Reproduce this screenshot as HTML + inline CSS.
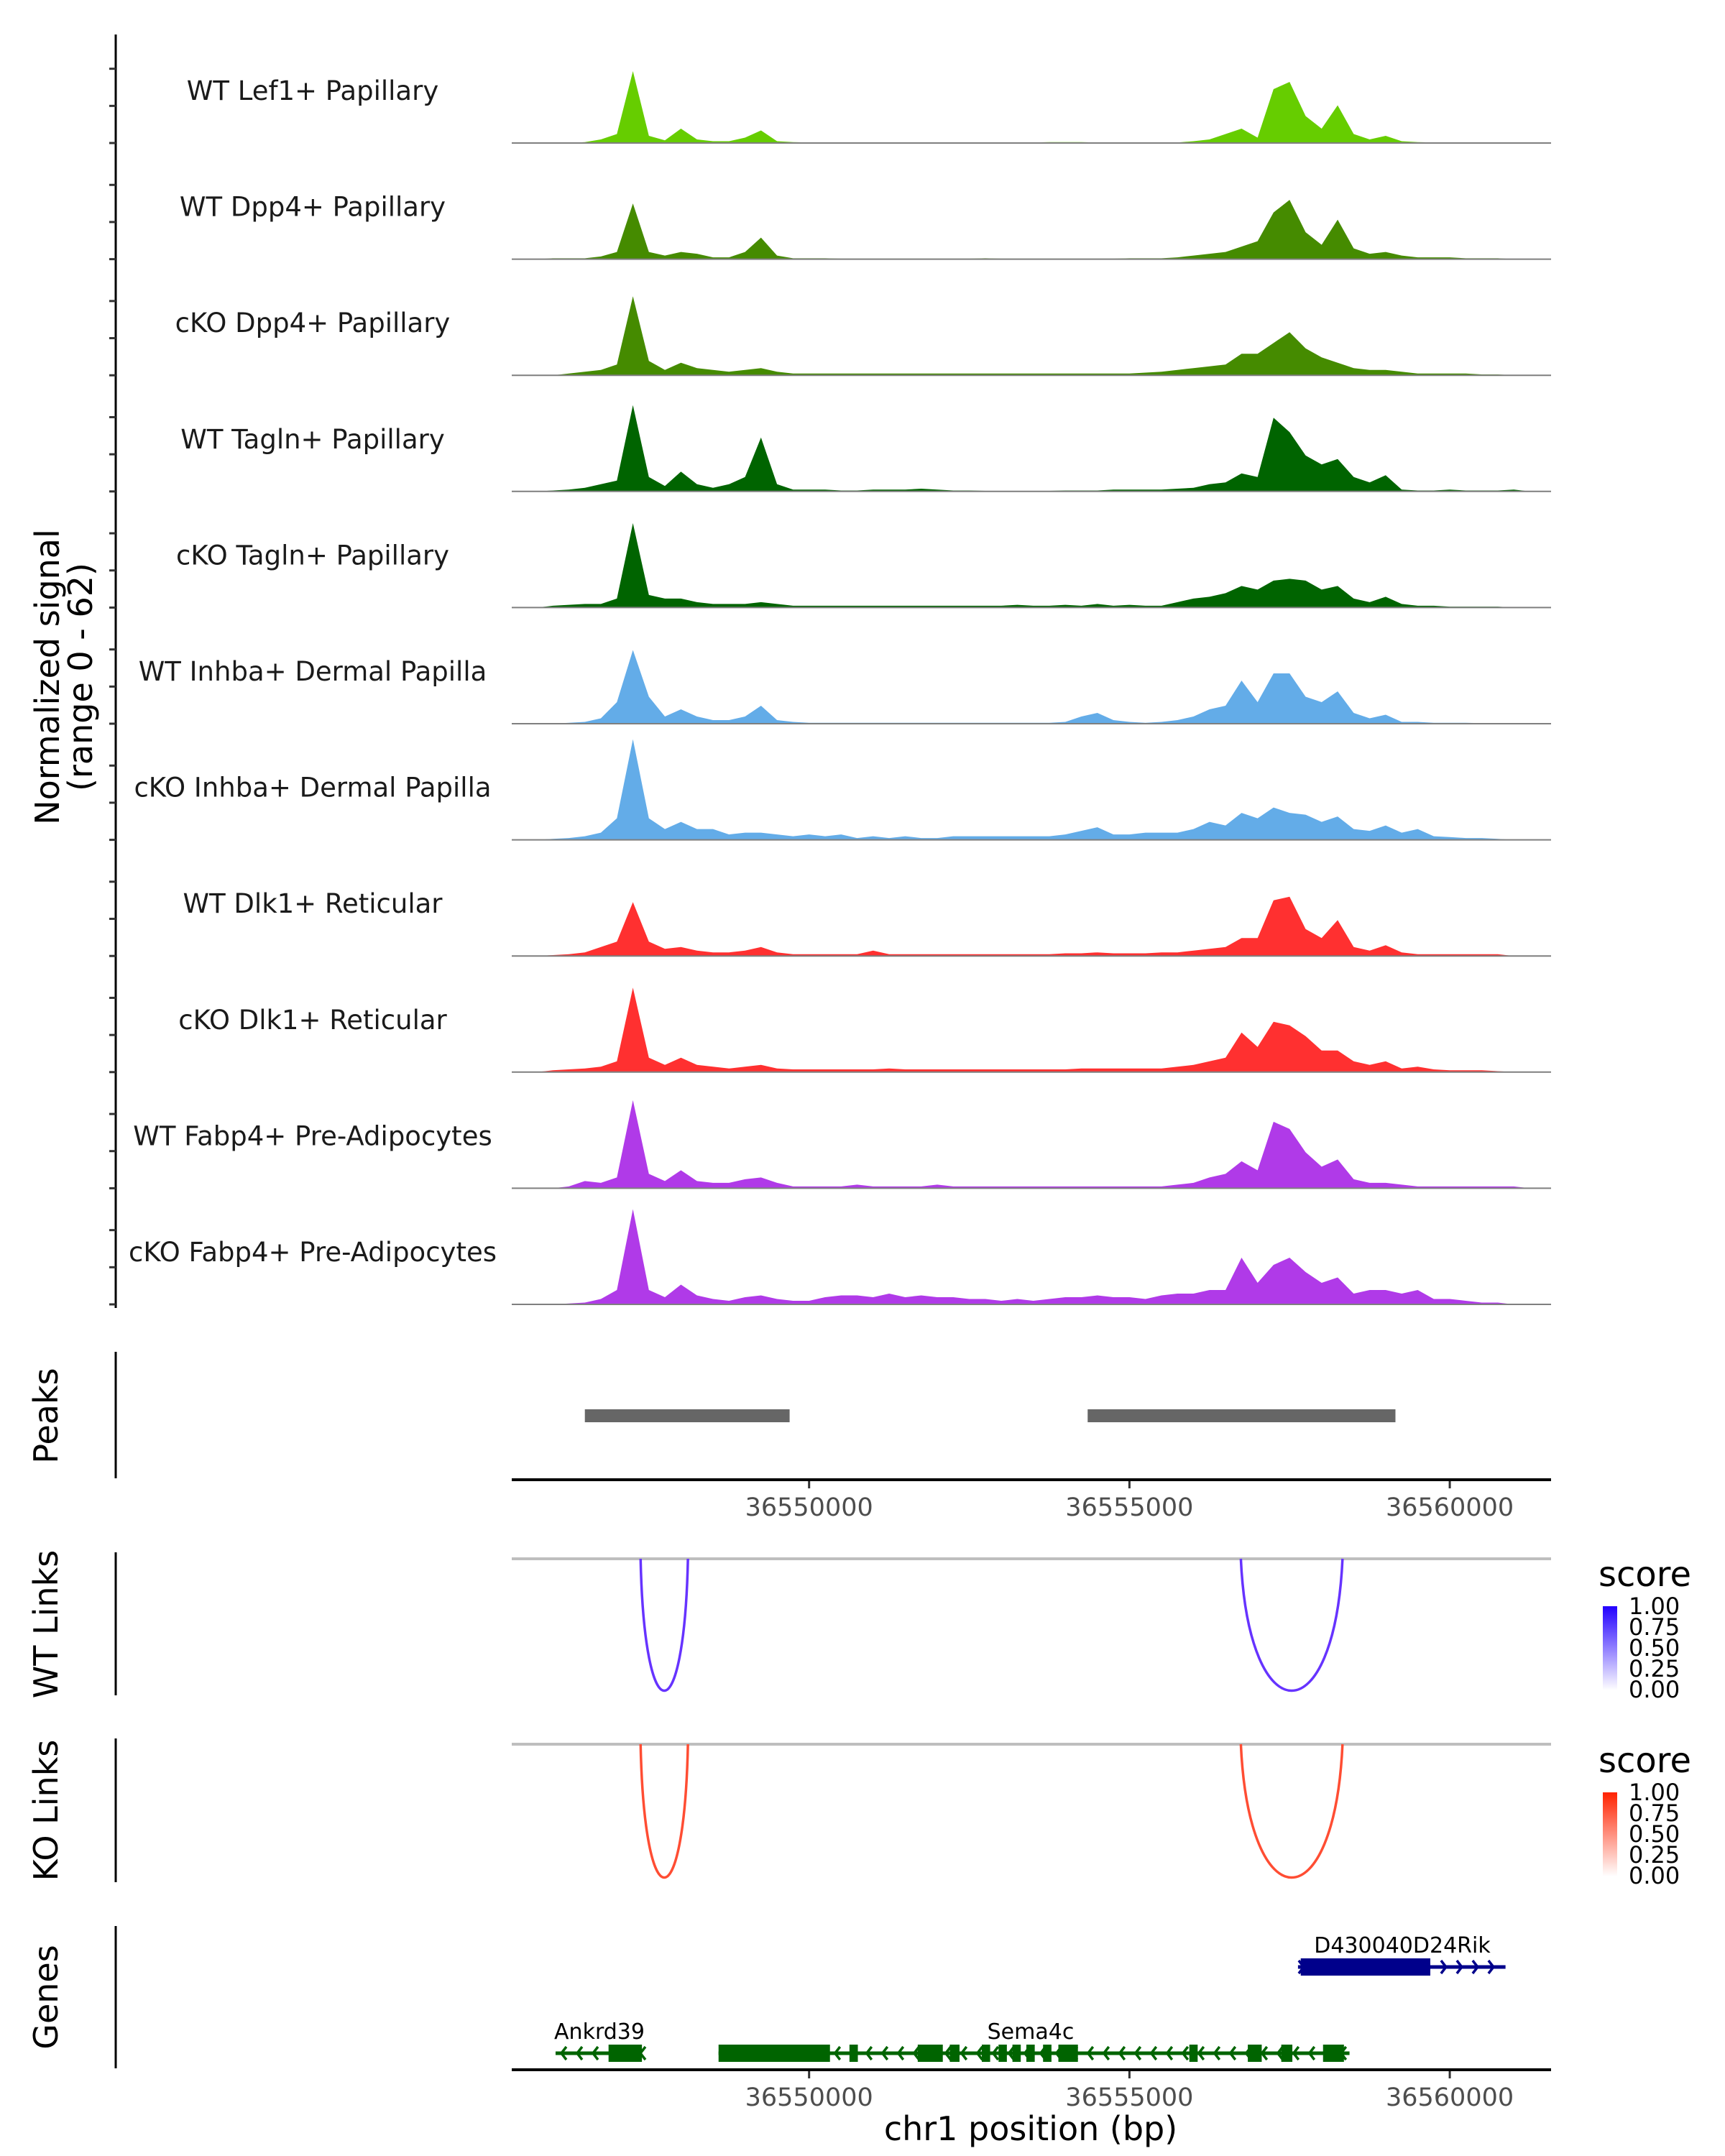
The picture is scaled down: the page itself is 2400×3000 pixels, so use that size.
<!DOCTYPE html>
<html><head><meta charset="utf-8">
<style>
html,body{margin:0;padding:0;background:#fff;}
svg{display:block;font-family:"DejaVu Sans","Liberation Sans",sans-serif;}
</style></head>
<body>
<svg id="chart" width="2400" height="3000" viewBox="0 0 2400 3000" xmlns="http://www.w3.org/2000/svg">
<defs>
<linearGradient id="gradWT" x1="0" y1="1" x2="0" y2="0"><stop offset="0" stop-color="#ffffff"/><stop offset="1" stop-color="#2200ff"/></linearGradient>
<linearGradient id="gradKO" x1="0" y1="1" x2="0" y2="0"><stop offset="0" stop-color="#ffffff"/><stop offset="1" stop-color="#ff2200"/></linearGradient>
</defs>
<g id="tracks"></g>
<line x1="161" y1="48" x2="161" y2="1820" stroke="#000" stroke-width="3"/>
<g id="yticks"></g>
<text transform="translate(82,942) rotate(-90)" text-anchor="middle" font-size="46" fill="#000">Normalized signal</text>
<text transform="translate(128,942) rotate(-90)" text-anchor="middle" font-size="46" fill="#000">(range 0 - 62)</text>

<line x1="161" y1="1881" x2="161" y2="2057" stroke="#000" stroke-width="3"/>
<text transform="translate(80,1970) rotate(-90)" text-anchor="middle" font-size="46">Peaks</text>
<g id="peaks"></g>
<line x1="712" y1="2059" x2="2158" y2="2059" stroke="#000" stroke-width="4"/>
<g id="xticks1"></g>

<line x1="161" y1="2160" x2="161" y2="2359" stroke="#000" stroke-width="3"/>
<text transform="translate(80,2260) rotate(-90)" text-anchor="middle" font-size="46">WT Links</text>
<line x1="712" y1="2169" x2="2158" y2="2169" stroke="#bebebe" stroke-width="4"/>
<g id="wtlinks"></g>

<line x1="161" y1="2419" x2="161" y2="2619" stroke="#000" stroke-width="3"/>
<text transform="translate(80,2519) rotate(-90)" text-anchor="middle" font-size="46">KO Links</text>
<line x1="712" y1="2427" x2="2158" y2="2427" stroke="#bebebe" stroke-width="4"/>
<g id="kolinks"></g>

<g>
<text x="2224" y="2207" font-size="48">score</text>
<rect x="2230" y="2235" width="20" height="117" fill="url(#gradWT)"/>
<g font-size="32" fill="#000">
<text x="2266" y="2246">1.00</text><text x="2266" y="2275">0.75</text><text x="2266" y="2304">0.50</text><text x="2266" y="2333">0.25</text><text x="2266" y="2362">0.00</text>
</g></g>
<g>
<text x="2224" y="2466" font-size="48">score</text>
<rect x="2230" y="2494" width="20" height="117" fill="url(#gradKO)"/>
<g font-size="32" fill="#000">
<text x="2266" y="2505">1.00</text><text x="2266" y="2534">0.75</text><text x="2266" y="2563">0.50</text><text x="2266" y="2592">0.25</text><text x="2266" y="2621">0.00</text>
</g></g>

<line x1="161" y1="2680" x2="161" y2="2878" stroke="#000" stroke-width="3"/>
<text transform="translate(80,2779) rotate(-90)" text-anchor="middle" font-size="46">Genes</text>
<g id="genes"></g>
<line x1="712" y1="2880" x2="2158" y2="2880" stroke="#000" stroke-width="4"/>
<g id="xticks2"></g>
<text x="1434" y="2978" text-anchor="middle" font-size="46">chr1 position (bp)</text>
</svg>
<script>
const trackNames = ["WT Lef1+ Papillary","WT Dpp4+ Papillary","cKO Dpp4+ Papillary","WT Tagln+ Papillary","cKO Tagln+ Papillary","WT Inhba+ Dermal Papilla","cKO Inhba+ Dermal Papilla","WT Dlk1+ Reticular","cKO Dlk1+ Reticular","WT Fabp4+ Pre-Adipocytes","cKO Fabp4+ Pre-Adipocytes"];
const trackColors = ["#66cd00","#458b00","#458b00","#006400","#006400","#63ace8","#63ace8","#ff3030","#ff3030","#b03ae8","#b03ae8"];
const binStart = 36545500;
const binSize = 250;
const sigLefWT = [0,0,0,0,0.5,2,5,40,4,1.5, 8,2,1,1,3,7,1,0.5,0.3,0.3, 0.3,0.3,0.3,0.3,0.3,0.3,0.3,0.3,0.3,0.3, 0.3,0.3,0.3,0.5,0.5,0.5,0.3,0.3,0.3,0.3, 0.3,0.3,1,2,5,8,3,30,34,15, 8,21,5,2,4,1,0.5,0.3,0.3,0.3, 0.3,0.3,0,0,0];
const sigDppWT = [0,0,0.5,0.5,0.5,1.5,4,31,4,2, 4,3,1,1,4,12,2,0.5,0.5,0.5, 0.3,0.3,0.3,0.3,0.3,0.3,0.3,0.3,0.3,0.5, 0.3,0.3,0.3,0.3,0.3,0.3,0.3,0.3,0.5,0.5, 0.5,1,2,3,4,7,10,26,33,15, 8,22,6,3,4,2,1,1,1,0.5, 0.5,0.5,0,0,0];
const sigDppKO = [0,0,0,1,2,3,6,44,8,3, 7,4,3,2,3,4,2,1,1,1, 1,1,1,1,1,1,1,1,1,1, 1,1,1,1,1,1,1,1,1,1.5, 2,3,4,5,6,12,12,18,24,15, 10,7,4,3,3,2,1,1,1,1, 0.5,0.5,0,0,0];
const sigTagWT = [0,0,0.5,1,2,4,6,48,8,3, 11,4,2,4,8,30,4,1,1,1, 0.5,0.5,1,1,1,1.5,1,0.5,0.5,0.3, 0.3,0.3,0.3,0.3,0.5,0.5,0.5,1,1,1, 1,1.5,2,4,5,10,8,41,33,20, 15,18,8,5,9,1,0.5,0.5,1,0.5, 0.5,0.5,1,0,0];
const sigTagKO = [0,0,1,1.5,2,2,5,47,7,5, 5,3,2,2,2,3,2,1,1,1, 1,1,1,1,1,1,1,1,1,1, 1,1.5,1,1,1.5,1,2,1,1.5,1, 1,3,5,6,8,12,10,15,16,15, 10,12,5,3,6,2,1,1,0.5,0.5, 0.5,0.5,0,0,0];
const sigInhWT = [0,0,0,0.5,1,3,12,41,15,4, 8,4,2,2,4,10,2,1,0.5,0.5, 0.5,0.5,0.5,0.5,0.5,0.5,0.5,0.5,0.5,0.5, 0.5,0.5,0.5,0.5,1,4,6,2,1,0.5, 1,2,4,8,10,24,12,28,28,15, 12,18,6,3,5,1,1,0.5,0.5,0.5, 0.3,0.3,0,0,0];
const sigInhKO = [0,0,0.5,1,2,4,12,56,12,6, 10,6,6,3,4,4,3,2,3,2, 3,1,2,1,2,1,1,2,2,2, 2,2,2,2,3,5,7,3,3,4, 4,4,6,10,8,15,12,18,15,14, 10,13,6,5,8,4,6,2,1.5,1, 1,0.5,0,0,0];
const sigDlkWT = [0,0,0.5,1,2,5,8,30,8,4, 5,3,2,2,3,5,2,1,1,1, 1,1,3,1,1,1,1,1,1,1, 1,1,1,1,1.5,1.5,2,1.5,1.5,1.5, 2,2,3,4,5,10,10,31,33,15, 10,20,5,3,6,2,1,1,1,1, 1,1,0,0,0];
const sigDlkKO = [0,0,1,1.5,2,3,6,47,8,4, 8,4,3,2,3,4,2,1.5,1.5,1.5, 1.5,1.5,1.5,2,1.5,1.5,1.5,1.5,1.5,1.5, 1.5,1.5,1.5,1.5,1.5,2,2,2,2,2, 2,3,4,6,8,22,14,28,26,20, 12,12,6,4,6,2,3,1.5,1,1, 1,0.5,0,0,0];
const sigFabWT = [0,0,0,1,4,3,6,49,8,4, 10,4,3,3,5,6,3,1,1,1, 1,2,1,1,1,1,2,1,1,1, 1,1,1,1,1,1,1,1,1,1, 1,2,3,6,8,15,10,37,33,20, 12,16,5,3,3,2,1,1,1,1, 1,1,1,0,0];
const sigFabKO = [0,0,0,0.5,1,3,8,53,8,4, 11,5,3,2,4,5,3,2,2,4, 5,5,4,6,4,5,4,4,3,3, 2,3,2,3,4,4,5,4,4,3, 5,6,6,8,8,26,12,22,26,18, 12,15,6,8,8,6,8,3,3,2, 1,1,0,0,0];
const signals = [sigLefWT,sigDppWT,sigDppKO,sigTagWT,sigTagKO,sigInhWT,sigInhKO,sigDlkWT,sigDlkKO,sigFabWT,sigFabKO];
const peakStarts = [36546500, 36554348];
const peakEnds = [36549696, 36559152];
const wtLinkStarts = [36547370, 36556739];
const wtLinkEnds = [36548109, 36558326];
const wtLinkScores = [0.8, 0.8];
const koLinkStarts = [36547370, 36556739];
const koLinkEnds = [36548109, 36558326];
const koLinkScores = [0.8, 0.8];
const xTickValues = [36550000, 36555000, 36560000];
const xTickLabels = ["36550000","36555000","36560000"];
const sema4cExonStarts = [36548587,36550630,36551696,36552196,36552696,36552957,36553174,36553391,36553652,36553891,36555935,36556848,36557370,36558022];
const sema4cExonEnds = [36550326,36550761,36552087,36552348,36552826,36553087,36553304,36553522,36553783,36554196,36556065,36557065,36557543,36558348];
const sema4cSpan = [36548587, 36558435];
const ankrdSpan = [36546043, 36547391];
const ankrdExonStarts = [36546870];
const ankrdExonEnds = [36547391];
const rikSpan = [36557631, 36560870];
const rikExonStarts = [36557674];
const rikExonEnds = [36559696];

const NS = "http://www.w3.org/2000/svg";
const xDomain = [36545359, 36561581], xRange = [712, 2158];
function xs(bp){ return xRange[0] + (bp - xDomain[0]) / (xDomain[1]-xDomain[0]) * (xRange[1]-xRange[0]); }
const yMax = 62, trackPx = 155;
function baseY(i){ return 199 + 161.6*i; }
function ys(v, i){ return baseY(i) - v / yMax * trackPx; }
function mk(tag, attrs, parent){ const e = document.createElementNS(NS, tag); for (const k in attrs) e.setAttribute(k, attrs[k]); parent.appendChild(e); return e; }

const tracks = document.getElementById("tracks");
signals.forEach((arr, i) => {
  const g = mk("g", {}, tracks);
  
  
  let pts = [];
  pts.push(xs(binStart) + "," + baseY(i));
  arr.forEach((v, j) => { pts.push(xs(binStart + j*binSize).toFixed(1) + "," + ys(v, i).toFixed(1)); });
  pts.push(xs(binStart + (arr.length-1)*binSize) + "," + baseY(i));
  const area = mk("polygon", {points: pts.join(" "), fill: trackColors[i]}, g);
  
  
  const bl = mk("line", {x1: 712, x2: 2158, y1: baseY(i), y2: baseY(i), stroke: "#7f7f7f", "stroke-width": 2}, g);
  
  
  const t = mk("text", {x: 435, y: baseY(i) - 60, "text-anchor": "middle", "font-size": 37, fill: "#1a1a1a"}, g);
  t.textContent = trackNames[i];
  
  
});

const yt = document.getElementById("yticks");
for (let i = 0; i < 11; i++) {
  [0, 1/3, 2/3].forEach(f => {
    const y = baseY(i) - f*155;
    const tk = mk("line", {x1: 152, x2: 161, y1: y, y2: y, stroke: "#333", "stroke-width": 3}, yt);
    
    
  });
}

const pk = document.getElementById("peaks");
peakStarts.forEach((s, i) => {
  const r = mk("rect", {x: xs(s), y: 1961, width: xs(peakEnds[i]) - xs(s), height: 18, fill: "#666666"}, pk);
  
  
});

function ticks(id, y){
  const g = document.getElementById(id);
  xTickValues.forEach((v, i) => {
    const l = mk("line", {x1: xs(v), x2: xs(v), y1: y, y2: y+10, stroke: "#333", "stroke-width": 3}, g);
    
    
    const t = mk("text", {x: xs(v), y: y+48, "text-anchor": "middle", "font-size": 35, fill: "#4d4d4d"}, g);
    t.textContent = xTickLabels[i];
    
    
  });
}
ticks("xticks1", 2061);
ticks("xticks2", 2882);

function links(id, starts, ends, scores, topY, depth, color){
  const g = document.getElementById(id);
  starts.forEach((s, i) => {
    const x1 = xs(s), x2 = xs(ends[i]);
    const bottom = topY + depth * scores[i] / 0.8;
    const d = `M${x1},${topY} C${x1 + (x2-x1)*0.08},${bottom + (bottom-topY)*0.33} ${x2 - (x2-x1)*0.08},${bottom + (bottom-topY)*0.33} ${x2},${topY}`;
    const p = mk("path", {d: d, fill: "none", stroke: color, "stroke-width": 3.5}, g);
    
    
  });
}
links("wtlinks", wtLinkStarts, wtLinkEnds, wtLinkScores, 2169, 184, "#6633ff");
links("kolinks", koLinkStarts, koLinkEnds, koLinkScores, 2427, 186, "#ff4d33");

const gg = document.getElementById("genes");
function gene(name, span, es, ee, y, color, dir, labelX){
  const g = mk("g", {}, gg);
  
  
  mk("line", {x1: xs(span[0]), x2: xs(span[1]), y1: y, y2: y, stroke: color, "stroke-width": 5}, g);
  for (let x = xs(span[0]) + 8; x < xs(span[1]); x += 22) {
    const d = dir < 0 ? `M${x+7},${y-9} L${x},${y} L${x+7},${y+9}` : `M${x-7},${y-9} L${x},${y} L${x-7},${y+9}`;
    mk("path", {d: d, fill: "none", stroke: color, "stroke-width": 3.5}, g);
  }
  es.forEach((s, i) => {
    const r = mk("rect", {x: xs(s), y: y-12, width: Math.max(6, xs(ee[i]) - xs(s)), height: 24, fill: color}, g);
    
    
  });
  const t = mk("text", {x: labelX, y: y - 20, "text-anchor": "middle", "font-size": 30, fill: "#000"}, g);
  t.textContent = name;
  
  
}
gene("Ankrd39", ankrdSpan, ankrdExonStarts, ankrdExonEnds, 2857, "#006400", -1, 834);
gene("Sema4c", sema4cSpan, sema4cExonStarts, sema4cExonEnds, 2857, "#006400", -1, 1434);
gene("D430040D24Rik", rikSpan, rikExonStarts, rikExonEnds, 2737, "#00008b", 1, 1951);
</script>
</body></html>
